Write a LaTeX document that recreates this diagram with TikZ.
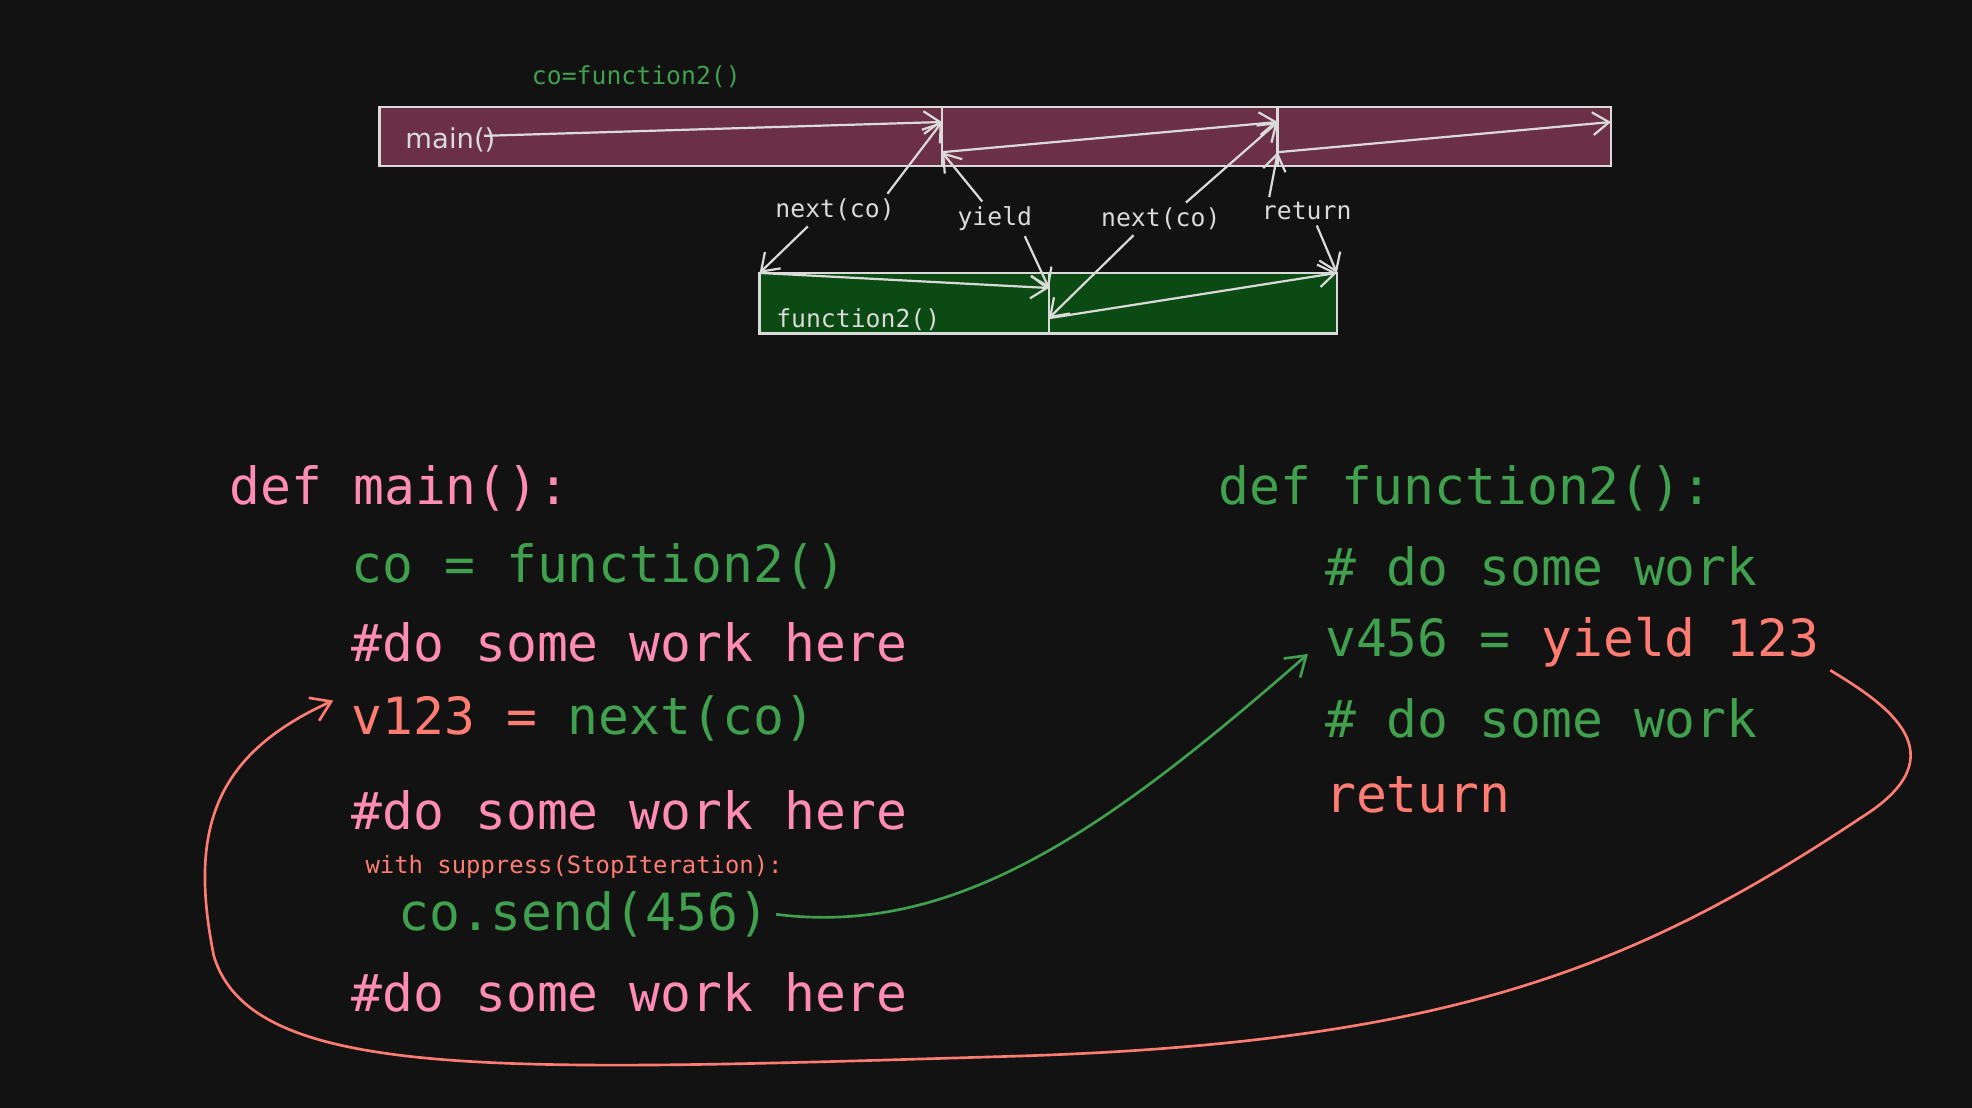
\documentclass[tikz,border=0pt]{standalone}
\usepackage{fontspec}
\setmonofont{DejaVu Sans Mono}
\setsansfont{DejaVu Sans}
\usetikzlibrary{arrows.meta}
\definecolor{bgcol}{HTML}{121212}
\definecolor{mainfill}{HTML}{6B3045}
\definecolor{funcfill}{HTML}{0B4A12}
\definecolor{linecol}{HTML}{DADADA}
\definecolor{pinkcol}{HTML}{FF8CB4}
\definecolor{greencol}{HTML}{40A04E}
\definecolor{redcol}{HTML}{FF7C72}
\begin{document}
\begin{tikzpicture}[x=0.01cm,y=-0.01cm,
  flow/.style={draw=linecol,line width=0.5pt,-{Straight Barb[length=1.3mm,width=1.8mm]}},
  small label/.style={text=linecol,font=\ttfamily\fontsize{5.6}{6}\selectfont,inner sep=1pt},
  code/.style={anchor=west,inner sep=0pt,font=\ttfamily\fontsize{11.6}{13}\selectfont},
  block/.style={draw=linecol,line width=0.6pt}]%
  \fill[bgcol] (0,0) rectangle (1568,881);
  \useasboundingbox (0,0) rectangle (1568,881);
  % boxes
  \draw[block,fill=mainfill] (302,85) rectangle (1281,132);
  \draw[block] (749,85) -- (749,132);
  \draw[block] (1016,85) -- (1016,132);
  \draw[block,fill=funcfill] (604,217) rectangle (1063,265);
  \draw[block] (834,217) -- (834,265);
  \node[text=linecol,font=\sffamily\fontsize{6.2}{7}\selectfont,anchor=west] (mainlbl) at (310,111) {main()};
  \node[small label,anchor=west,text=linecol] (funclbl) at (613,254) {function2()};
  \node[small label,text=greencol] (colbl) at (506,61) {co=function2()};
  % points
  \coordinate (m0) at (385,108);
  \coordinate (m1t) at (749,97);
  \coordinate (m1b) at (749,121);
  \coordinate (m2t) at (1016,97);
  \coordinate (m2b) at (1016,121);
  \coordinate (m3t) at (1281,97);
  \coordinate (f0t) at (604,217);
  \coordinate (f1t) at (834,229);
  \coordinate (f1b) at (834,253);
  \coordinate (f2t) at (1063,217);
  \draw[flow] (m0) -- (m1t);
  \draw[flow] (m1b) -- (m2t);
  \draw[flow] (m2b) -- (m3t);
  \draw[flow] (f0t) -- (f1t);
  \draw[flow] (f1b) -- (f2t);
  % labels between the boxes
  \node[small label] (next1) at (664,167) {next(co)};
  \node[small label] (yieldlbl) at (791,174) {yield};
  \node[small label] (next2) at (923,174) {next(co)};
  \node[small label] (retlbl) at (1039,168) {return};
  \draw[flow] (next1.north east) ++(-10,0) coordinate (a1) -- (m1t);
  \draw[flow] (next1.south west) ++(30,0) coordinate (a2) -- (f0t);
  \draw[flow] (yieldlbl.north) ++(-10,0) coordinate (a3) -- (m1b);
  \draw[flow] (yieldlbl.south east) ++(-10,0) coordinate (a4) -- (f1t);
  \draw[flow] (next2.north) ++(20,0) coordinate (a5) -- (m2t);
  \draw[flow] (next2.south west) ++(30,0) coordinate (a6) -- (f1b);
  \draw[flow] (retlbl.north west) ++(10,0) coordinate (a7) -- (m2b);
  \draw[flow] (retlbl.south) ++(8,0) coordinate (a8) -- (f2t);
  % code of main
  \node[code,text=pinkcol] (ldef) at (182,388) {def main():};
  \node[code,text=greencol] (lco) at (279,450) {co = function2()};
  \node[code,text=pinkcol] (lwork1) at (279,511) {\#do some work here};
  \node[code] (lnext) at (279,571) {\textcolor{redcol}{v123 =} \textcolor{greencol}{next(co)}};
  \node[code,text=pinkcol] (lwork2) at (279,644) {\#do some work here};
  \node[code,text=redcol,font=\ttfamily\fontsize{5.4}{6}\selectfont] (lwith) at (290,689) {with suppress(StopIteration):};
  \node[code,text=greencol] (lsend) at (316,727) {co.send(456)};
  \node[code,text=pinkcol] (lwork3) at (279,789) {\#do some work here};
  % code of function2
  \node[code,text=greencol] (rdef) at (968,388) {def function2():};
  \node[code,text=greencol] (rwork1) at (1053,450) {\# do some work};
  \node[code] (ryield) at (1053,511) {\textcolor{greencol}{v456 =} \textcolor{redcol}{yield 123}};
  \node[code,text=greencol] (rwork2) at (1053,571) {\# do some work};
  \node[code,text=redcol] (rret) at (1053,632) {return};
  % jumps
  \draw[greencol,line width=0.6pt,-{Straight Barb[length=1.5mm,width=2mm]}] (lsend.east) ++(5,0)
    .. controls (760,745) and (880,660) .. (1040,520);
  \draw[redcol,line width=0.6pt,-{Straight Barb[length=1.5mm,width=2mm]}] (ryield.east) ++(8,22)
    .. controls (1500,560) and (1560,600) .. (1480,650)
    .. controls (1300,770) and (1150,830) .. (800,840)
    .. controls (400,852) and (200,860) .. (170,760)
    .. controls (150,660) and (170,600) .. (265,557);
\end{tikzpicture}
\end{document}
